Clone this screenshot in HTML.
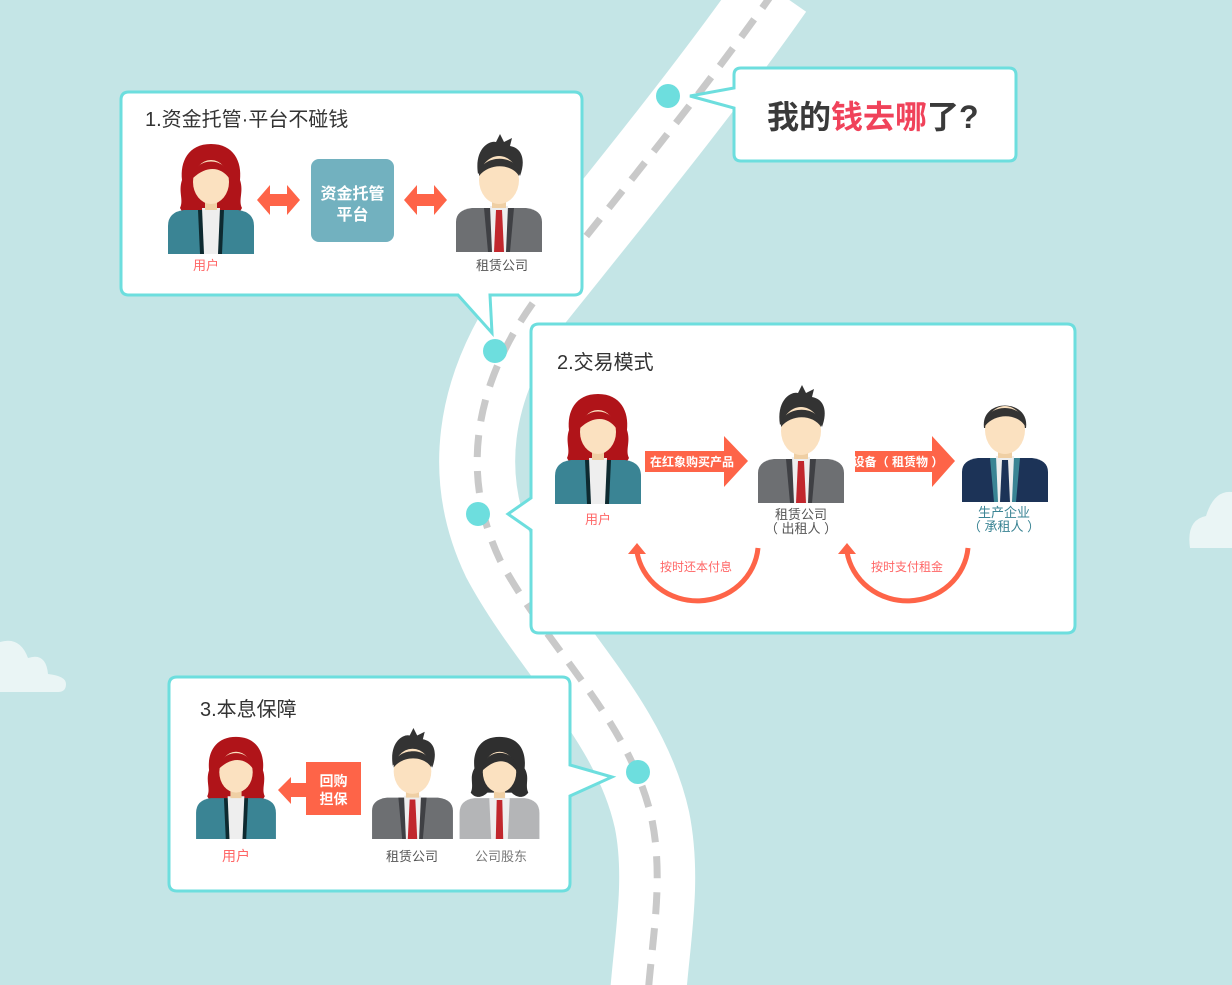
<!DOCTYPE html>
<html><head><meta charset="utf-8"><style>
html,body{margin:0;padding:0;background:#c4e5e6;}
svg{display:block;font-family:"Liberation Sans","Noto Sans CJK SC",sans-serif;}
</style></head><body>
<svg width="1232" height="985" viewBox="0 0 1232 985" xmlns="http://www.w3.org/2000/svg">
<defs>
<symbol id="woman" viewBox="0 0 86 112">
 <path d="M43,2 C20,2 12,20 14,38 C10,50 16,58 12,66 C16,74 24,78 32,76 L54,76 C62,78 70,74 74,66 C70,58 76,50 72,38 C74,20 66,2 43,2Z" fill="#b01419"/>
 <path d="M0,112 L0,84 Q0,70 16,68 L70,68 Q86,70 86,84 L86,112Z" fill="#3a8494"/>
 <path d="M30,68 L56,68 L54,112 L32,112Z" fill="#0e2a30"/>
 <path d="M34,66 L52,66 L50,112 L36,112Z" fill="#eeeeee"/>
 <rect x="37" y="54" width="12" height="14" fill="#efcfa4"/>
 <ellipse cx="43" cy="40" rx="18" ry="22" fill="#fbe1c0"/>
 <path d="M25,36 C26,14 60,14 61,36 C54,26 40,22 25,36Z" fill="#b01419"/>
</symbol>
<symbol id="woman2" viewBox="0 0 86 112">
 <path d="M43,2 C20,2 14,20 16,36 C10,46 16,54 12,62 C18,70 26,66 30,62 L56,62 C60,66 68,70 74,62 C70,54 76,46 70,36 C72,20 66,2 43,2Z" fill="#2f2f2f"/>
 <path d="M0,112 L0,84 Q0,70 16,68 L70,68 Q86,70 86,84 L86,112Z" fill="#b4b5b7"/>
 <path d="M32,68 L54,68 L52,112 L34,112Z" fill="#eeeeee"/>
 <path d="M40,70 L46,70 L47,112 L39,112Z" fill="#c1272d"/>
 <rect x="37" y="54" width="12" height="14" fill="#efcfa4"/>
 <ellipse cx="43" cy="40" rx="18" ry="22" fill="#fbe1c0"/>
 <path d="M25,38 C24,14 62,12 61,38 C52,26 40,24 25,38Z" fill="#2f2f2f"/>
</symbol>
<symbol id="man" viewBox="0 0 86 118">
 <path d="M22,40 C18,14 34,6 40,8 L44,0 L48,8 L56,4 L54,12 C66,14 70,26 64,42 C58,28 34,28 22,40Z" fill="#333"/>
 <path d="M0,118 L0,88 Q0,76 16,74 L70,74 Q86,76 86,88 L86,118Z" fill="#6d6f72"/>
 <path d="M28,74 L58,74 L54,118 L32,118Z" fill="#3f4044"/>
 <path d="M34,72 L52,72 L50,118 L36,118Z" fill="#eeeeee"/>
 <path d="M40,76 L46,76 L48,118 L38,118Z" fill="#c1272d"/>
 <rect x="36" y="58" width="14" height="16" fill="#efcfa4"/>
 <ellipse cx="43" cy="46" rx="20" ry="24" fill="#fbe1c0"/>
 <path d="M23,42 C22,20 64,18 63,42 C56,30 34,28 23,42Z" fill="#333"/>
</symbol>
<symbol id="man2" viewBox="0 0 86 112">
 <path d="M22,38 C18,8 68,8 64,38Z" fill="#333"/>
 <path d="M0,112 L0,82 Q0,70 16,68 L70,68 Q86,70 86,82 L86,112Z" fill="#1c3357"/>
 <path d="M28,68 L58,68 L54,112 L32,112Z" fill="#3a8494"/>
 <path d="M34,66 L52,66 L50,112 L36,112Z" fill="#eeeeee"/>
 <path d="M40,70 L46,70 L48,112 L38,112Z" fill="#1c3357"/>
 <rect x="36" y="52" width="14" height="16" fill="#efcfa4"/>
 <ellipse cx="43" cy="40" rx="20" ry="24" fill="#fbe1c0"/>
 <path d="M23,36 C22,12 64,12 63,36 C56,24 34,22 23,36Z" fill="#333"/>
</symbol>
</defs>
<rect width="1232" height="985" fill="#c4e5e6"/>
<!-- road -->
<path d="M775,-10 C705,90 615,200 535,300 C470,390 462,480 500,560 C548,650 630,720 652,820 C664,880 652,940 648,995" fill="none" stroke="#fff" stroke-width="76"/>
<path d="M775,-10 C705,90 615,200 535,300 C470,390 462,480 500,560 C548,650 630,720 652,820 C664,880 652,940 648,995" fill="none" stroke="#c9c9c9" stroke-width="7" stroke-dasharray="22 14"/>
<!-- clouds -->
<path d="M1190,548 Q1186,520 1206,516 Q1214,490 1232,492 L1232,548Z" fill="#eaf5f5"/>
<path d="M0,692 L0,642 Q20,636 28,658 Q46,652 48,674 Q66,676 66,684 Q66,692 58,692Z" fill="#eaf5f5"/>
<!-- dots -->
<circle cx="668" cy="96" r="12" fill="#6ddede"/>
<circle cx="495" cy="351" r="12" fill="#6ddede"/>
<circle cx="478" cy="514" r="12" fill="#6ddede"/>
<circle cx="638" cy="772" r="12" fill="#6ddede"/>
<!-- title box -->
<path d="M741,68 L1009,68 Q1016,68 1016,75 L1016,154 Q1016,161 1009,161 L741,161 Q734,161 734,154 L734,108 L690,96 L734,88 L734,75 Q734,68 741,68Z" fill="#fff" stroke="#6ddede" stroke-width="3"/>
<text x="767" y="128" font-size="32" font-weight="bold" fill="#3a3a3a">我的<tspan fill="#f0425a">钱去哪</tspan>了?</text>
<!-- box1 -->
<path d="M129,92 L574,92 Q582,92 582,100 L582,287 Q582,295 574,295 L490,295 L492,333 L458,295 L129,295 Q121,295 121,287 L121,100 Q121,92 129,92Z" fill="#fff" stroke="#6ddede" stroke-width="3"/>
<text x="145" y="126" font-size="20" fill="#333">1.资金托管·平台不碰钱</text>
<use href="#woman" x="168" y="142" width="86" height="112"/>
<text x="206" y="270" font-size="13" fill="#f66" text-anchor="middle">用户</text>
<path d="M257,200 L270,185 L270,194 L287,194 L287,185 L300,200 L287,215 L287,206 L270,206 L270,215Z" fill="#fe6448"/>
<rect x="311" y="159" width="83" height="83" rx="8" fill="#72b1bf"/>
<text x="352.5" y="199" font-size="16" font-weight="bold" fill="#fff" text-anchor="middle">资金托管</text>
<text x="352.5" y="220" font-size="16" font-weight="bold" fill="#fff" text-anchor="middle">平台</text>
<path d="M404,200 L417,185 L417,194 L434,194 L434,185 L447,200 L434,215 L434,206 L417,206 L417,215Z" fill="#fe6448"/>
<use href="#man" x="456" y="134" width="86" height="118"/>
<text x="502" y="270" font-size="13" fill="#555" text-anchor="middle">租赁公司</text>
<!-- box2 -->
<path d="M539,324 L1067,324 Q1075,324 1075,332 L1075,625 Q1075,633 1067,633 L539,633 Q531,633 531,625 L531,530 L508,514 L531,498 L531,332 Q531,324 539,324Z" fill="#fff" stroke="#6ddede" stroke-width="3"/>
<text x="557" y="369" font-size="20" fill="#333">2.交易模式</text>
<use href="#woman" x="555" y="392" width="86" height="112"/>
<text x="598" y="524" font-size="13" fill="#f66" text-anchor="middle">用户</text>
<path d="M645,451 L724,451 L724,436 L748,461 L724,487 L724,472 L645,472Z" fill="#fe6448"/>
<text x="692" y="466" font-size="12" font-weight="bold" fill="#fff" text-anchor="middle">在红象购买产品</text>
<use href="#man" x="758" y="385" width="86" height="118"/>
<text x="801" y="519" font-size="13" fill="#555" text-anchor="middle">租赁公司</text>
<text x="801" y="533" font-size="13" fill="#555" text-anchor="middle">（ 出租人 ）</text>
<path d="M855,451 L932,451 L932,436 L955,461 L932,487 L932,472 L855,472Z" fill="#fe6448"/>
<text x="898" y="466" font-size="12" font-weight="bold" fill="#fff" text-anchor="middle">设备（ 租赁物 ）</text>
<use href="#man2" x="962" y="390" width="86" height="112"/>
<text x="1004" y="517" font-size="13" fill="#3a8494" text-anchor="middle">生产企业</text>
<text x="1004" y="531" font-size="13" fill="#3a8494" text-anchor="middle">（ 承租人 ）</text>
<path d="M758,548 A61,58 0 0 1 637,552" fill="none" stroke="#fe6448" stroke-width="5"/>
<path d="M628,554 L637,543 L646,554Z" fill="#fe6448"/>
<text x="696" y="571" font-size="12" fill="#f66" text-anchor="middle">按时还本付息</text>
<path d="M968,548 A61,58 0 0 1 847,552" fill="none" stroke="#fe6448" stroke-width="5"/>
<path d="M838,554 L847,543 L856,554Z" fill="#fe6448"/>
<text x="907" y="571" font-size="12" fill="#f66" text-anchor="middle">按时支付租金</text>
<!-- box3 -->
<path d="M177,677 L562,677 Q570,677 570,685 L570,765 L612,777 L570,796 L570,883 Q570,891 562,891 L177,891 Q169,891 169,883 L169,685 Q169,677 177,677Z" fill="#fff" stroke="#6ddede" stroke-width="3"/>
<text x="200" y="716" font-size="20" fill="#333">3.本息保障</text>
<use href="#woman" x="195" y="735" width="82" height="104"/>
<text x="236" y="861" font-size="14" fill="#f66" text-anchor="middle">用户</text>
<path d="M278,790 L291,777 L291,783 L306,783 L306,797 L291,797 L291,804Z" fill="#fe6448"/>
<rect x="306" y="762" width="55" height="53" fill="#fe6448"/>
<text x="333.5" y="786" font-size="14" font-weight="bold" fill="#fff" text-anchor="middle">回购</text>
<text x="333.5" y="804" font-size="14" font-weight="bold" fill="#fff" text-anchor="middle">担保</text>
<use href="#man" x="370" y="728" width="85" height="111"/>
<text x="412" y="861" font-size="13" fill="#555" text-anchor="middle">租赁公司</text>
<use href="#woman2" x="459" y="735" width="81" height="104"/>
<text x="501" y="861" font-size="13" fill="#777" text-anchor="middle">公司股东</text>
</svg>
</body></html>
